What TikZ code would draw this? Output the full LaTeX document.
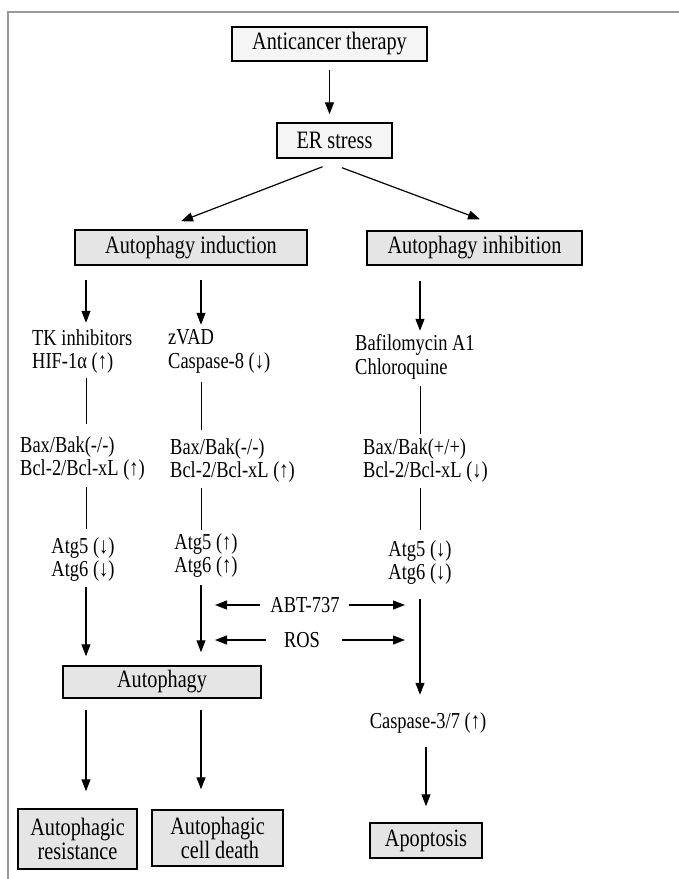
\documentclass[tikz,border=0pt]{standalone}
\usepackage{fontspec}
\setmainfont[FakeStretch=0.81]{Liberation Serif}
\usetikzlibrary{arrows.meta}
\begin{document}
\begin{tikzpicture}[x=1pt,y=-1pt]
      \tikzset{box/.style={draw, line width=1.5pt, fill=black!10, inner sep=0pt, align=center, font=\fontsize{25}{24.5}\selectfont},
               topbox/.style={box, fill=black!4},
               lbl/.style={inner sep=0pt, minimum height=48pt, align=left, font=\fontsize{22.8}{23.5}\selectfont},
               tag/.style={lbl, minimum height=24pt},
               arr/.style={line width=1.2pt, -{Triangle[length=12pt,width=9pt]}},
               link/.style={line width=0.9pt}}
      \useasboundingbox (0,0) rectangle (679,879);
      \draw[black!40, line width=1.5pt] (8,879) -- (8,12) -- (679,12);
      \coordinate (cA) at (86,0);
      \coordinate (cB) at (201,0);
      \coordinate (cC) at (420,0);
%% Boxes
      \node[topbox, minimum width=195pt, minimum height=34pt] (act) at (329.5,44) {Anticancer therapy};
      \node[topbox, minimum width=115pt, minimum height=35pt] (er) at (334.5,140.5) {ER stress};
      \node[box, minimum width=232pt, minimum height=35pt] (ind) at (191,247.5) {Autophagy induction};
      \node[box, minimum width=215pt, minimum height=34pt] (inh) at (474.5,248) {Autophagy inhibition};
      \node[box, minimum width=198pt, minimum height=32pt] (aut) at (162,682) {Autophagy};
      \node[box, minimum width=119pt, minimum height=60pt] (res) at (77.5,839) {Autophagic\\resistance};
      \node[box, minimum width=131pt, minimum height=56pt] (death) at (217.5,838) {Autophagic\\\ cell death};
      \node[box, minimum width=112pt, minimum height=35pt] (apo) at (426,840.5) {Apoptosis};
%% Labels
      \node[lbl, anchor=west] (tk) at (32,351.5) {TK inhibitors\\HIF-1α (↑)};
      \node[lbl, anchor=west] (zvad) at (168,351.5) {zVAD\\Caspase-8 (↓)};
      \node[lbl, anchor=west] (baf) at (355,357) {Bafilomycin A1\\Chloroquine};
      \node[lbl, anchor=west] (bax1) at (20,458.5) {Bax/Bak(-/-)\\Bcl-2/Bcl-xL (↑)};
      \node[lbl, anchor=west] (bax2) at (170,460.5) {Bax/Bak(-/-)\\Bcl-2/Bcl-xL (↑)};
      \node[lbl, anchor=west] (bax3) at (363,460.5) {Bax/Bak(+/+)\\Bcl-2/Bcl-xL (↓)};
      \node[lbl, align=center] (atg1) at (83,559.5) {Atg5 (↓)\\Atg6 (↓)};
      \node[lbl, align=center] (atg2) at (206,555.5) {Atg5 (↑)\\Atg6 (↑)};
      \node[lbl, align=center] (atg3) at (420,562.5) {Atg5 (↓)\\Atg6 (↓)};
      \node[tag] (abt) at (305,605) {ABT-737};
      \node[tag] (ros) at (302,640) {ROS};
      \node[tag] (casp) at (428,723) {Caspase-3/7 (↑)};
%Edges
      \path (act.south) edge[arr, shorten <=8pt, shorten >=8pt] (act.south |- er.north);
      \path ([xshift=-12pt,yshift=-8pt]er.south) edge[arr] ([xshift=-10pt,yshift=8pt]ind.north);
      \path ([xshift=7.5pt,yshift=-9pt]er.south) edge[arr] ([xshift=5.5pt,yshift=11pt]inh.north);
      \path (ind.south -| cA) edge[arr, shorten <=14pt, shorten >=4.5pt] (tk.north -| cA);
      \path (ind.south -| cB) edge[arr, shorten <=14pt, shorten >=2.5pt] (zvad.north -| cB);
      \path (inh.south -| cC) edge[arr, shorten <=15pt, shorten >=2pt] (baf.north -| cC);
      \path (tk.south -| cA) edge[link, shorten <=2.5pt, shorten >=10.5pt] (bax1.north -| cA);
      \path (zvad.south -| cB) edge[link, shorten <=6.5pt, shorten >=6.5pt] (bax2.north -| cB);
      \path (baf.south -| cC) edge[link, shorten <=5pt, shorten >=2.5pt] (bax3.north -| cC);
      \path (bax1.south -| cA) edge[link, shorten <=4.5pt, shorten >=6.5pt] (atg1.north -| cA);
      \path (bax2.south -| cB) edge[link, shorten <=3.5pt, shorten >=1.5pt] (atg2.north -| cB);
      \path (bax3.south -| cC) edge[link, shorten <=3.5pt, shorten >=8.5pt] (atg3.north -| cC);
      \path (atg1.south -| cA) edge[arr, shorten <=3.5pt, shorten >=9pt] (aut.north -| cA);
      \path (atg2.south -| cB) edge[arr, shorten <=5.5pt, shorten >=13pt] (aut.north -| cB);
      \path (atg3.south) edge[arr, shorten <=12.5pt, shorten >=16pt] (atg3.south |- casp.north);
      \path (abt.west) edge[arr, shorten <=10pt, shorten >=14pt] (abt.west -| cB);
      \path (abt.east) edge[arr, shorten <=9pt, shorten >=15pt] (abt.east -| cC);
      \path (ros.west) edge[arr, shorten <=18pt, shorten >=14pt] (ros.west -| cB);
      \path (ros.east) edge[arr, shorten <=22pt, shorten >=15pt] (ros.east -| cC);
      \path (aut.south -| cA) edge[arr, shorten <=11pt, shorten >=17pt] (res.north -| cA);
      \path (aut.south -| cB) edge[arr, shorten <=11pt, shorten >=20pt] (death.north -| cB);
      \path (apo.north |- casp.south) edge[arr, shorten <=12pt, shorten >=16pt] (apo.north);
\end{tikzpicture}
\end{document}
